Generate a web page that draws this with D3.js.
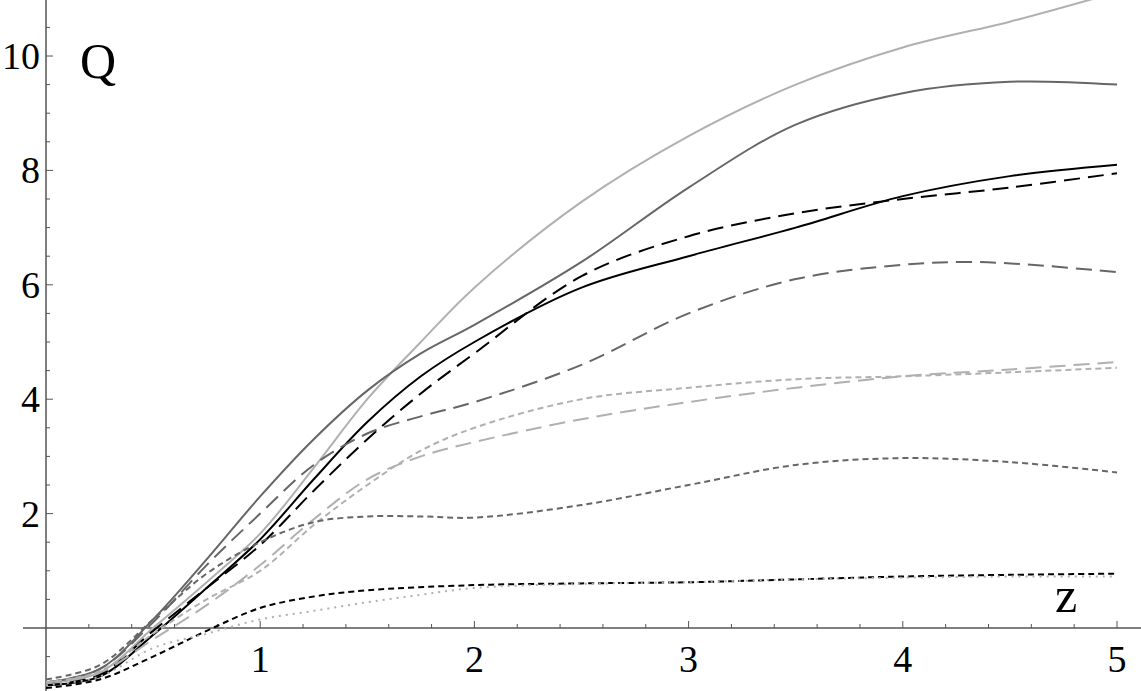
<!DOCTYPE html>
<html><head><meta charset="utf-8">
<script src="https://cdn.jsdelivr.net/npm/d3@7"></script>
<style>body{margin:0;background:#fff}svg text{font-family:"Liberation Serif",serif}</style>
</head><body><div id="chart"></div>
<script>
const W = 1141, H = 691;
const xTicks = [1, 2, 3, 4, 5];
const yTicks = [2, 4, 6, 8, 10];

// each curve: [z, Q] samples
const lightSolid = [[0,-0.97],[0.25,-0.78],[0.5,0.0],[0.75,0.8],[1,1.65],[1.25,2.8],[1.5,4.0],[1.75,5.0],[2,5.95],[2.5,7.45],[3,8.6],[3.5,9.5],[4,10.15],[4.5,10.6],[4.89,11.0]];
const darkSolid = [[0,-0.95],[0.25,-0.72],[0.5,0.15],[0.75,1.2],[1,2.3],[1.25,3.3],[1.5,4.15],[1.75,4.8],[2,5.3],[2.5,6.4],[3,7.7],[3.5,8.8],[4,9.35],[4.5,9.55],[5,9.5]];
const blackSolid = [[0,-1.0],[0.25,-0.85],[0.5,-0.12],[0.75,0.7],[1,1.55],[1.25,2.6],[1.5,3.6],[1.75,4.4],[2,5.0],[2.5,5.95],[3,6.5],[3.5,7.0],[4,7.55],[4.5,7.9],[5,8.1]];
const blackLong = [[0,-1.0],[0.25,-0.82],[0.5,-0.05],[0.75,0.7],[1,1.45],[1.25,2.4],[1.5,3.3],[1.75,4.1],[2,4.8],[2.5,6.15],[3,6.85],[3.5,7.25],[4,7.5],[4.5,7.7],[5,7.95]];
const darkLong = [[0,-0.95],[0.25,-0.72],[0.5,0.1],[0.75,1.1],[1,2.0],[1.25,2.85],[1.5,3.4],[1.75,3.7],[2,3.95],[2.5,4.6],[3,5.5],[3.5,6.1],[4,6.35],[4.3,6.4],[4.6,6.35],[5,6.22]];
const lightLong = [[0,-0.95],[0.25,-0.78],[0.5,-0.2],[0.75,0.4],[1,1.1],[1.25,1.9],[1.5,2.6],[1.75,3.0],[2,3.25],[2.5,3.65],[3,3.95],[3.5,4.2],[4,4.4],[4.5,4.52],[5,4.65]];
const lightShort = [[0,-0.95],[0.25,-0.76],[0.5,-0.1],[0.75,0.5],[1,1.0],[1.25,1.8],[1.5,2.5],[1.75,3.1],[2,3.5],[2.5,4.0],[3,4.2],[3.5,4.35],[4,4.4],[4.5,4.47],[5,4.55]];
const darkShort = [[0,-0.9],[0.25,-0.65],[0.5,0.15],[0.75,0.95],[1,1.5],[1.25,1.85],[1.5,1.95],[1.75,1.95],[2,1.93],[2.5,2.15],[3,2.5],[3.5,2.85],[4,2.97],[4.5,2.9],[5,2.72]];
const blackShort = [[0,-1.05],[0.25,-0.9],[0.5,-0.5],[0.75,-0.05],[1,0.35],[1.25,0.55],[1.5,0.66],[2,0.75],[2.5,0.78],[3,0.8],[3.5,0.85],[4,0.9],[4.5,0.93],[5,0.95]];
const lightDot = [[0,-1.0],[0.25,-0.85],[0.5,-0.35],[0.75,-0.1],[1,0.15],[1.25,0.3],[1.5,0.45],[1.75,0.58],[2,0.7],[2.5,0.77],[3,0.8],[3.5,0.85],[4,0.88],[4.5,0.9],[5,0.9]];

const series = [
  {d: lightSolid, c: '#b0b0b0', dash: null, w: 2},
  {d: darkSolid, c: '#666', dash: null, w: 2},
  {d: blackSolid, c: '#000', dash: null, w: 2},
  {d: blackLong, c: '#000', dash: '16,8', w: 2},
  {d: darkLong, c: '#666', dash: '16,8', w: 2},
  {d: lightLong, c: '#b0b0b0', dash: '16,8', w: 2},
  {d: lightShort, c: '#b0b0b0', dash: '6,4', w: 2},
  {d: darkShort, c: '#666', dash: '6,4', w: 2},
  {d: blackShort, c: '#000', dash: '6,4', w: 2},
  {d: lightDot, c: '#b0b0b0', dash: '2,5', w: 2}
];

const x = d3.scaleLinear().domain([0, 5]).range([46, 1117]);
const y = d3.scaleLinear().domain([0, 10]).range([628, 56]);

const svg = d3.select('#chart').append('svg').attr('width', W).attr('height', H);

// axes
svg.append('line').attr('x1', 23).attr('x2', 1141).attr('y1', y(0)).attr('y2', y(0)).attr('stroke', '#555').attr('stroke-width', 1.5);
svg.append('line').attr('x1', x(0)).attr('x2', x(0)).attr('y1', 0).attr('y2', H).attr('stroke', '#555').attr('stroke-width', 1.5);

d3.range(0.2, 5.01, 0.2).forEach((v) => {
  const major = Math.abs(v - Math.round(v)) < 1e-6;
  svg.append('line').attr('x1', x(v)).attr('x2', x(v)).attr('y1', y(0)).attr('y2', y(0) - (major ? 7 : 4)).attr('stroke', '#555');
});
d3.range(-1, 11.01, 0.5).forEach((v) => {
  if (v === 0) return;
  const major = v % 2 === 0;
  svg.append('line').attr('x1', x(0)).attr('x2', x(0) + (major ? 7 : 4)).attr('y1', y(v)).attr('y2', y(v)).attr('stroke', '#555');
});

svg.selectAll('.xt').data(xTicks).enter().append('text')
  .attr('x', (d) => x(d)).attr('y', 672).attr('text-anchor', 'middle')
  .attr('font-size', 38).text((d) => d);
svg.selectAll('.yt').data(yTicks).enter().append('text')
  .attr('x', 40).attr('y', (d) => y(d) + 13).attr('text-anchor', 'end')
  .attr('font-size', 38).text((d) => d);

svg.append('text').attr('x', 80).attr('y', 78).attr('font-size', 50).text('Q');
svg.append('text').attr('x', 1055).attr('y', 612).attr('font-size', 50).text('z');

const line = d3.line().x((d) => x(d[0])).y((d) => y(d[1])).curve(d3.curveCatmullRom.alpha(0.5));

svg.selectAll('.curve').data(series).enter().append('path')
  .attr('d', (s) => line(s.d))
  .attr('fill', 'none')
  .attr('stroke', (s) => s.c)
  .attr('stroke-width', (s) => s.w)
  .attr('stroke-dasharray', (s) => s.dash);
</script></body></html>
